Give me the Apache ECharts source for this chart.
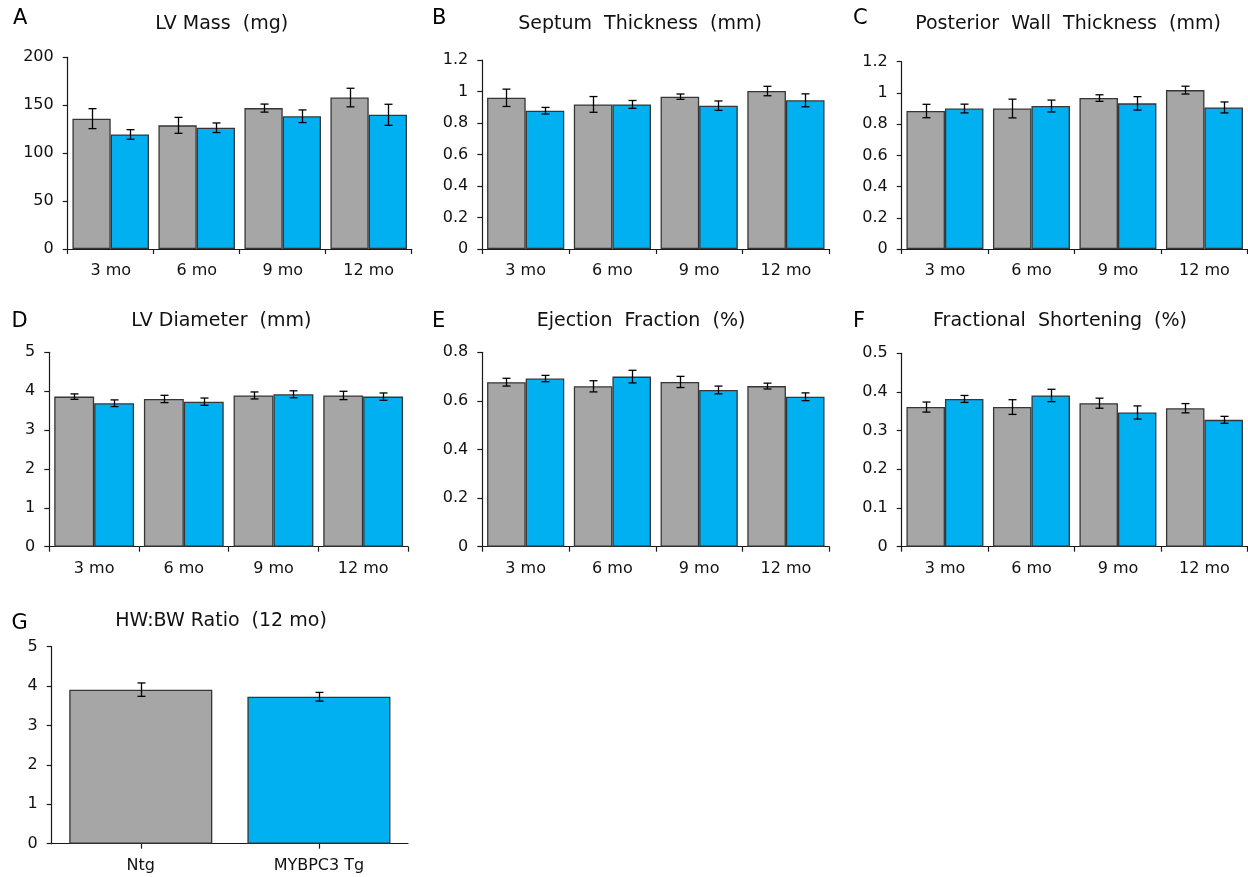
<!DOCTYPE html>
<html><head><meta charset="utf-8">
<script src="https://cdn.jsdelivr.net/npm/echarts@6/dist/echarts.min.js"></script>
<style>html,body{margin:0;padding:0;background:#fff}#c{width:1248px;height:877px}</style>
</head><body><div id="c"></div>
<script>
// ---- data ----
const months = ['3 mo', '6 mo', '9 mo', '12 mo'];
const groups = ['Ntg', 'MYBPC3 Tg'];

const lvMassNtg = [136, 129, 147, 158];
const lvMassNtgErr = [10.4, 8.3, 4.2, 9.7];
const lvMassTg = [119.5, 126.5, 138.5, 140];
const lvMassTgErr = [5, 5, 6.6, 11];

const septumNtg = [0.96, 0.918, 0.967, 1.003];
const septumNtgErr = [0.055, 0.05, 0.017, 0.03];
const septumTg = [0.878, 0.918, 0.91, 0.944];
const septumTgErr = [0.021, 0.025, 0.03, 0.041];

const pwNtg = [0.884, 0.90, 0.967, 1.018];
const pwNtgErr = [0.043, 0.06, 0.021, 0.025];
const pwTg = [0.90, 0.916, 0.933, 0.907];
const pwTgErr = [0.028, 0.038, 0.043, 0.035];

const lvdNtg = [3.86, 3.80, 3.89, 3.89];
const lvdNtgErr = [0.07, 0.094, 0.09, 0.107];
const lvdTg = [3.69, 3.73, 3.92, 3.86];
const lvdTgErr = [0.086, 0.094, 0.09, 0.094];

const efNtg = [0.677, 0.66, 0.678, 0.661];
const efNtgErr = [0.016, 0.023, 0.023, 0.012];
const efTg = [0.692, 0.70, 0.645, 0.617];
const efTgErr = [0.013, 0.026, 0.016, 0.016];

const fsNtg = [0.361, 0.361, 0.371, 0.358];
const fsNtgErr = [0.013, 0.019, 0.013, 0.012];
const fsTg = [0.382, 0.391, 0.347, 0.328];
const fsTgErr = [0.009, 0.016, 0.017, 0.009];

const hwbwValues = [3.91, 3.73];
const hwbwErr = [0.17, 0.11];

const yMax = [200, 1.2, 1.2, 5, 0.8, 0.5, 5];
const yInterval = [50, 0.2, 0.2, 1, 0.2, 0.1, 1];
const titles = ['LV Mass  (mg)', 'Septum  Thickness  (mm)', 'Posterior  Wall  Thickness  (mm)',
  'LV Diameter  (mm)', 'Ejection  Fraction  (%)', 'Fractional  Shortening  (%)', 'HW:BW Ratio  (12 mo)'];
const letters = ['A', 'B', 'C', 'D', 'E', 'F', 'G'];

// ---- layout / style ----
const GRAY = '#A6A6A6', BLUE = '#00B0F0', EDGE = '#363636', INK = '#111111';
const FONT = 'DejaVu Sans';
const grids = [
  {left: 67.7, top: 57.3, width: 344, height: 191.7},
  {left: 482.3, top: 60, width: 347, height: 189},
  {left: 901.7, top: 61.7, width: 346, height: 187.3},
  {left: 49.3, top: 352.3, width: 358.7, height: 194.4},
  {left: 482.3, top: 352.3, width: 347, height: 194.4},
  {left: 901.7, top: 353.3, width: 346, height: 193.4},
  {left: 51.7, top: 646.7, width: 356.3, height: 197}
];
const titlePos = [[221.7, 24.5], [640, 24.5], [1068, 24.5], [221.3, 321.5], [641, 321.5], [1060, 321.5], [221, 621.5]];
const letterPos = [[13, 18.5], [432, 18.5], [853, 18.5], [11.5, 322], [432, 322], [853, 322], [11.5, 623.5]];
const GAP = 0.11, GAP_G = 0.197;

const panels = [
  [lvMassNtg, lvMassNtgErr, lvMassTg, lvMassTgErr],
  [septumNtg, septumNtgErr, septumTg, septumTgErr],
  [pwNtg, pwNtgErr, pwTg, pwTgErr],
  [lvdNtg, lvdNtgErr, lvdTg, lvdTgErr],
  [efNtg, efNtgErr, efTg, efTgErr],
  [fsNtg, fsNtgErr, fsTg, fsTgErr]
];

function errRender(side, nSeries, gapFrac) {
  return function (params, api) {
    const i = api.value(0), v = api.value(1), e = api.value(2);
    const band = api.size([1, 0])[0];
    const bw = band * (1 - gapFrac) / nSeries;
    const off = nSeries === 1 ? 0 : (side === 0 ? -bw / 2 : bw / 2);
    const hi = api.coord([i, v + e]);
    const lo = api.coord([i, v - e]);
    const x = Math.round(hi[0] + off) + 0.5;
    const cap = 4;
    const st = {stroke: '#000', lineWidth: 1.3};
    return {
      type: 'group', children: [
        {type: 'line', shape: {x1: x, y1: hi[1], x2: x, y2: lo[1]}, style: st},
        {type: 'line', shape: {x1: x - cap, y1: hi[1], x2: x + cap, y2: hi[1]}, style: st},
        {type: 'line', shape: {x1: x - cap, y1: lo[1], x2: x + cap, y2: lo[1]}, style: st}
      ]
    };
  };
}

const axisLineStyle = {color: '#1a1a1a', width: 1.2};
const gridOpts = grids.map(g => Object.assign({containLabel: false, outerBoundsMode: 'none'}, g));
const xAxes = [], yAxes = [], series = [], graphics = [];

grids.forEach((g, k) => {
  const isG = k === 6;
  xAxes.push({
    type: 'category', gridIndex: k, data: isG ? groups : months,
    axisLine: {lineStyle: axisLineStyle},
    axisTick: {show: true, inside: false, length: 5, alignWithLabel: isG, lineStyle: axisLineStyle},
    axisLabel: {color: INK, fontFamily: FONT, fontSize: 16, margin: 14},
    splitLine: {show: false}
  });
  yAxes.push({
    type: 'value', gridIndex: k, min: 0, max: yMax[k], interval: yInterval[k],
    axisLine: {show: true, lineStyle: axisLineStyle},
    axisTick: {show: true, inside: false, length: 5, lineStyle: axisLineStyle},
    axisLabel: {color: INK, fontFamily: FONT, fontSize: 16, margin: 14},
    splitLine: {show: false}
  });
  graphics.push({type: 'text', x: titlePos[k][0], y: titlePos[k][1],
    style: {text: titles[k], font: '19px "' + FONT + '"', fill: INK, textAlign: 'center', textVerticalAlign: 'middle'}});
  graphics.push({type: 'text', x: letterPos[k][0], y: letterPos[k][1],
    style: {text: letters[k], font: '21px "' + FONT + '"', fill: '#000', textAlign: 'left', textVerticalAlign: 'middle'}});
});

panels.forEach((p, k) => {
  const [ntg, ntgErr, tg, tgErr] = p;
  const barStyle = c => ({color: c, borderColor: EDGE, borderWidth: 1.3});
  series.push({type: 'bar', xAxisIndex: k, yAxisIndex: k, data: ntg, barGap: '0%', barCategoryGap: (GAP * 100) + '%',
    itemStyle: barStyle(GRAY), silent: true});
  series.push({type: 'bar', xAxisIndex: k, yAxisIndex: k, data: tg, barGap: '0%', barCategoryGap: (GAP * 100) + '%',
    itemStyle: barStyle(BLUE), silent: true});
  series.push({type: 'custom', xAxisIndex: k, yAxisIndex: k, z: 5, renderItem: errRender(0, 2, GAP),
    encode: {x: 0, y: 1}, data: ntg.map((v, i) => [i, v, ntgErr[i]]), silent: true});
  series.push({type: 'custom', xAxisIndex: k, yAxisIndex: k, z: 5, renderItem: errRender(1, 2, GAP),
    encode: {x: 0, y: 1}, data: tg.map((v, i) => [i, v, tgErr[i]]), silent: true});
});

// panel G
series.push({type: 'bar', xAxisIndex: 6, yAxisIndex: 6, barCategoryGap: (GAP_G * 100) + '%', silent: true,
  data: hwbwValues.map((v, i) => ({value: v, itemStyle: {color: i === 0 ? GRAY : BLUE, borderColor: EDGE, borderWidth: 1.3}}))});
series.push({type: 'custom', xAxisIndex: 6, yAxisIndex: 6, z: 5, renderItem: errRender(0, 1, GAP_G),
  encode: {x: 0, y: 1}, data: hwbwValues.map((v, i) => [i, v, hwbwErr[i]]), silent: true});

const chart = echarts.init(document.getElementById('c'), null, {renderer: 'canvas'});
chart.setOption({
  animation: false,
  backgroundColor: '#fff',
  grid: gridOpts,
  xAxis: xAxes,
  yAxis: yAxes,
  series: series,
  graphic: graphics
});
</script></body></html>
